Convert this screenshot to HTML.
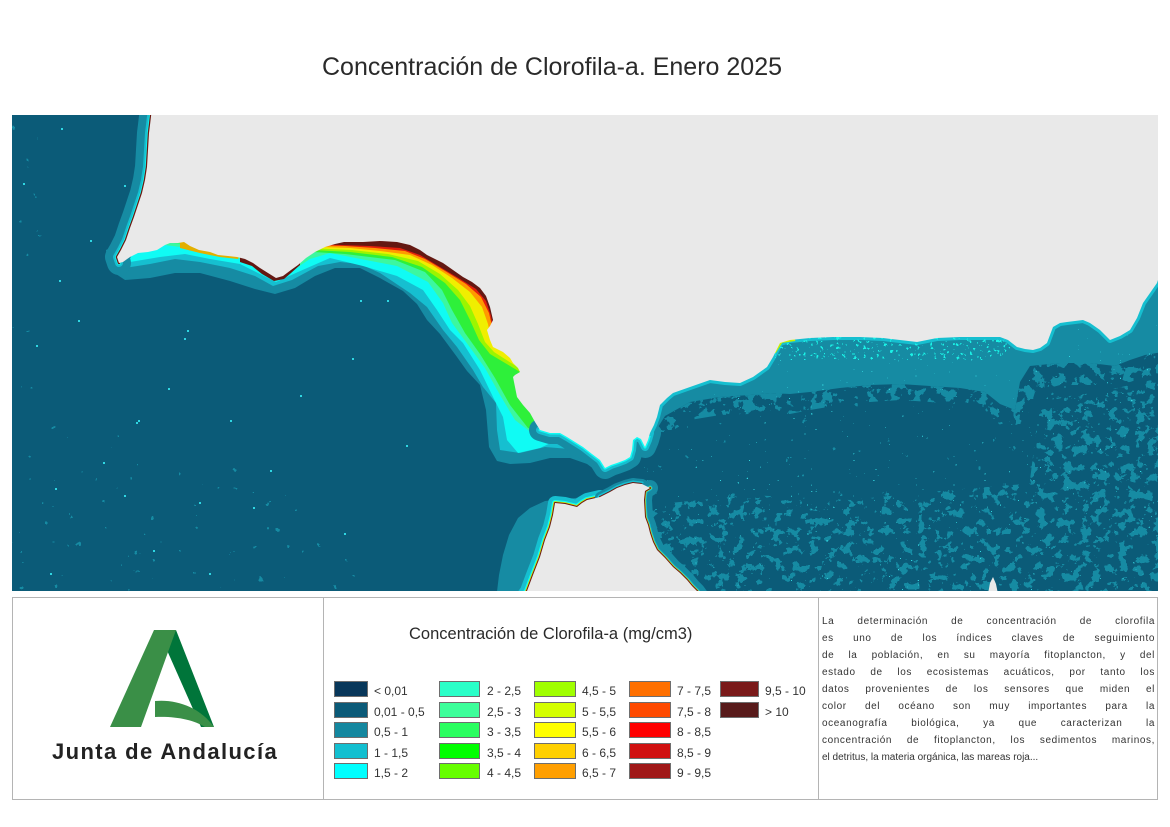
<!DOCTYPE html>
<html><head><meta charset="utf-8">
<style>
html,body{margin:0;padding:0;background:#fff;}
body{width:1170px;height:827px;position:relative;overflow:hidden;font-family:"Liberation Sans",sans-serif;}
.abs{position:absolute;white-space:nowrap;}
.title{left:322px;top:55px;font-size:25px;line-height:25px;color:#2a2a2a;}
.ltitle{left:409px;top:626px;font-size:16.5px;line-height:17px;color:#2a2a2a;}
.sw{position:absolute;height:14px;border:1px solid #6e6e6e;box-sizing:content-box;}
.lb{position:absolute;font-size:12px;line-height:12px;color:#333;white-space:nowrap;}
.tl{position:absolute;left:822px;width:333px;height:17px;font-size:10px;line-height:17px;color:#333;text-align:justify;text-align-last:justify;letter-spacing:0.6px;white-space:nowrap;}
.tl.last{text-align:left;text-align-last:left;letter-spacing:0;}
.junta{left:52px;top:741px;font-size:22px;line-height:22px;font-weight:bold;color:#222;letter-spacing:1.4px;}
</style></head>
<body>
<svg class="abs" style="left:0;top:0" width="1170" height="827" viewBox="0 0 1170 827" xmlns="http://www.w3.org/2000/svg">
<defs>
<clipPath id="mapclip"><rect x="12" y="115" width="1146" height="476"/></clipPath>
<filter id="mixMid" x="0" y="0" width="1" height="1" color-interpolation-filters="sRGB">
 <feTurbulence type="fractalNoise" baseFrequency="0.11" numOctaves="4" seed="11"/>
 <feColorMatrix type="matrix" values="0 0 0 0 0.086  0 0 0 0 0.545  0 0 0 0 0.639  4 0 0 0 -2.78"/>
 <feComponentTransfer><feFuncA type="discrete" tableValues="0 1"/></feComponentTransfer>
 <feComposite in2="SourceGraphic" operator="in"/>
</filter>
<filter id="mixSouth" x="0" y="0" width="1" height="1" color-interpolation-filters="sRGB">
 <feTurbulence type="fractalNoise" baseFrequency="0.11" numOctaves="4" seed="11"/>
 <feColorMatrix type="matrix" values="0 0 0 0 0.086  0 0 0 0 0.545  0 0 0 0 0.639  4 0 0 0 -1.92"/>
 <feComponentTransfer><feFuncA type="discrete" tableValues="0 1"/></feComponentTransfer>
 <feComposite in2="SourceGraphic" operator="in"/>
</filter>
<filter id="mixRight" x="0" y="0" width="1" height="1" color-interpolation-filters="sRGB">
 <feTurbulence type="fractalNoise" baseFrequency="0.11" numOctaves="4" seed="11"/>
 <feColorMatrix type="matrix" values="0 0 0 0 0.086  0 0 0 0 0.545  0 0 0 0 0.639  4 0 0 0 -1.8"/>
 <feComponentTransfer><feFuncA type="discrete" tableValues="0 1"/></feComponentTransfer>
 <feComposite in2="SourceGraphic" operator="in"/>
</filter>
<filter id="mixDense" x="0" y="0" width="1" height="1" color-interpolation-filters="sRGB">
 <feTurbulence type="fractalNoise" baseFrequency="0.09" numOctaves="4" seed="5"/>
 <feColorMatrix type="matrix" values="0 0 0 0 0.086  0 0 0 0 0.545  0 0 0 0 0.639  4 0 0 0 -1.7"/>
 <feComponentTransfer><feFuncA type="discrete" tableValues="0 1"/></feComponentTransfer>
 <feComposite in2="SourceGraphic" operator="in"/>
</filter>
<filter id="mixAtl" x="0" y="0" width="1" height="1" color-interpolation-filters="sRGB">
 <feTurbulence type="fractalNoise" baseFrequency="0.12" numOctaves="3" seed="4"/>
 <feColorMatrix type="matrix" values="0 0 0 0 0.086  0 0 0 0 0.545  0 0 0 0 0.639  4 0 0 0 -2.7"/>
 <feComponentTransfer><feFuncA type="discrete" tableValues="0 1"/></feComponentTransfer>
 <feComposite in2="SourceGraphic" operator="in"/>
</filter>
<filter id="spk" x="0" y="0" width="1" height="1" color-interpolation-filters="sRGB">
 <feTurbulence type="fractalNoise" baseFrequency="0.45" numOctaves="1" seed="21"/>
 <feColorMatrix type="matrix" values="0 0 0 0 0.2  0 0 0 0 0.83  0 0 0 0 0.87  8 0 0 0 -5.6"/>
 <feComponentTransfer><feFuncA type="discrete" tableValues="0 1"/></feComponentTransfer>
 <feComposite in2="SourceGraphic" operator="in"/>
</filter>
<filter id="spk2" x="0" y="0" width="1" height="1" color-interpolation-filters="sRGB">
 <feTurbulence type="fractalNoise" baseFrequency="0.3" numOctaves="2" seed="8"/>
 <feColorMatrix type="matrix" values="0 0 0 0 0.1  0 0 0 0 0.95  0 0 0 0 0.9  8 0 0 0 -4.9"/>
 <feComponentTransfer><feFuncA type="discrete" tableValues="0 1"/></feComponentTransfer>
 <feComposite in2="SourceGraphic" operator="in"/>
</filter>
<path id="s1" d="M152,108 L150,125 149,133 148,150 147,167 145,180 142,193 138,205 134,217 130,228 126,240 121,250 117,257 119,263"/>
<path id="s4" d="M540,430 L550,433 560,433 567,437 575,442 583,447 592,454 600,460 605,468 611,465 617,463 625,460 630,457 632,450 633,440 637,437 641,439 645,447 648,440 650,433"/>
<path id="s5" d="M650,433 L654,425 657,417 660,405 667,398 673,393 690,387 710,380 725,382 740,383 753,377 760,372 767,367 773,357 780,343 790,340 810,338 833,337 860,337 883,338 900,340 917,342 937,338 960,337 1000,337 1008,340 1017,347 1025,349 1033,350 1040,348 1047,343 1053,327 1060,323 1067,322 1083,320 1090,323 1100,330 1110,340 1120,336 1130,330 1137,318 1143,303 1150,293 1157,283 1162,268"/>
<path id="a1" d="M522,598 L527,591 533,575 540,557 545,540 550,527 553,515 555,503 565,504 577,507 582,503 587,500 600,497"/>
<path id="a2" d="M600,497 L610,492 617,488 625,485 633,483 642,484 650,488"/>
<path id="a3" d="M650,488 L645,491 644,500 645,517 648,525 650,533 653,542 657,550 665,558 673,567 680,573 687,580 692,586 697,591 702,598"/>
</defs>

<g clip-path="url(#mapclip)">
 <rect x="12" y="115" width="1146" height="476" fill="#0b5b78"/>
 <!-- Atlantic sparse patches -->
 <polygon points="12,420 150,440 260,470 330,530 370,600 12,600" fill="#000" filter="url(#mixAtl)"/>
 <polygon points="12,115 40,115 45,300 30,420 12,430" fill="#000" filter="url(#mixAtl)"/>
 <!-- Alboran mixtures -->
 <polygon points="630,330 1160,250 1160,600 630,600" fill="#000" filter="url(#mixMid)"/>
 <polygon points="650,505 750,495 850,500 950,490 1050,482 1160,470 1160,600 650,600" fill="#000" filter="url(#mixSouth)"/>
 <polygon points="1040,400 1100,392 1160,378 1160,600 1070,600 1030,480" fill="#000" filter="url(#mixRight)"/>
 <!-- transition strip below north band -->
 <polygon fill="#000" filter="url(#mixDense)" points="655,432 665,416 690,402 720,397 750,395 770,393 790,394 810,392 840,388 870,385 900,384 930,386 960,388 985,392 1000,404 1015,410 1020,382 1030,366 1060,363 1090,363 1115,366 1130,360 1145,355 1162,352 1162,372 1130,382 1100,385 1060,385 1035,392 1025,425 1000,425 985,410 960,405 930,402 900,400 870,402 840,405 810,410 790,414 770,414 750,414 720,415 690,420 670,432"/>
 <!-- Alboran north band -->
 <polygon fill="#168ba3" points="650,433 654,425 657,417 660,405 667,398 673,393 690,387 710,380 725,382 740,383 753,377 760,372 767,367 773,357 780,343 790,340 810,338 833,337 860,337 883,338 900,340 917,342 937,338 960,337 1000,337 1008,340 1017,347 1025,349 1033,350 1040,348 1047,343 1053,327 1060,323 1067,322 1083,320 1090,323 1100,330 1110,340 1120,336 1130,330 1137,318 1143,303 1150,293 1157,283 1162,268 1162,352 1145,355 1130,360 1115,366 1090,363 1060,363 1030,366 1020,382 1015,410 1000,404 985,392 960,388 930,386 900,384 870,385 840,388 810,392 790,394 770,393 750,395 720,397 690,402 665,416 655,432"/>
 <polygon points="640,330 1160,260 1160,600 640,600" fill="#000" filter="url(#spk)"/>
 <!-- Africa Atlantic band -->
 <polygon fill="#168ba3" points="496,600 499,575 503,555 509,535 518,518 530,508 545,501 565,499 585,497 600,495 600,540 560,600"/>
 <!-- Gulf of Cadiz bands -->
 <polygon fill="#168ba3" points="106,250 107,262 113,272 125,280 150,278 175,273 200,273 230,281 255,289 275,294 295,288 315,276 335,268 360,268 380,278 403,291 417,304 427,320 440,334 457,357 467,371 480,385 486,410 489,447 497,461 510,464 530,463 550,458 570,458 590,465 605,471 600,420 450,150 160,150 140,205 127,240"/>
 <polygon fill="#16bfd0" points="112,258 116,266 125,268 150,264 175,259 200,262 230,268 255,276 273,286 292,280 318,266 340,262 360,264 380,273 410,293 427,307 443,330 457,347 473,370 483,387 496,403 497,430 500,450 520,453 545,447 570,449 590,460 605,470 600,420 450,150 160,150 140,205 127,240"/>
 <polygon fill="#10fbf4" points="119,262 130,262 160,257 185,254 210,259 240,264 262,275 276,282 298,272 330,258 363,266 397,276 423,290 437,310 450,330 463,343 480,370 493,397 503,417 507,440 518,453 540,448 555,441 580,448 600,463 605,469 600,420 450,150 160,150 140,205 127,240"/>
 <polygon fill="#3cf7a0" points="180,247 200,253 220,257 240,259 258,267 272,278 290,272 310,259 330,253 397,266 428,282 443,303 452,323 466,342 485,368 500,395 515,420 537,437 550,436 600,420 450,150 160,150 140,205 127,240"/>
 <polygon fill="#2ef03a" points="345,254 395,260 425,272 442,290 452,310 465,333 480,354 495,378 510,405 528,428 545,434 600,420 450,150 160,150 140,205 127,240"/>
 <polygon fill="#9cf500" points="350,252 392,257 422,267 445,283 460,300 470,320 479,340 490,354 600,420 450,150 160,150 140,205 127,240"/>
 <polygon fill="#f0ee00" points="352,250 388,254 418,261 440,274 458,290 470,306 478,324 485,342 494,352 600,420 450,150 160,150 140,205 127,240"/>
 <polygon fill="#ff9a00" points="350,248 380,251 410,255 432,265 452,278 470,292 482,307 488,324 490,334 600,420 450,150 160,150 140,205 127,240"/>
 <polygon fill="#e3200c" points="345,246 375,248 405,251 425,259 445,271 466,284 481,297 489,313 492,326 600,420 450,150 160,150 140,205 127,240"/>
 <polygon fill="#641812" points="340,245 370,246 400,248 420,255 440,267 460,279 476,289 486,301 491,316 492,322 600,420 450,150 160,150 140,205 127,240"/>
 <polygon fill="#641812" points="240,262 252,266 262,274 274,281 284,279 291,273 300,265 300,240 240,240"/>
 <polygon fill="#e3b000" points="180,248 200,253 220,257 238,259 240,250 180,240"/>
 <!-- coastal strokes -->
 <g fill="none" stroke-linejoin="round" stroke-linecap="round">
  <use href="#s1" stroke="#168ba3" stroke-width="24"/>
  <use href="#s1" stroke="#16bfd0" stroke-width="8"/>
  <use href="#s1" stroke="#10fbf4" stroke-width="4"/>
  <use href="#s1" stroke="#6a1a12" stroke-width="2.5"/>
  <use href="#s4" stroke="#168ba3" stroke-width="22"/>
  <use href="#s4" stroke="#16bfd0" stroke-width="8"/>
  <use href="#s4" stroke="#10fbf4" stroke-width="3"/>
  <use href="#s5" stroke="#16bfd0" stroke-width="6"/>
  <use href="#a1" stroke="#16bfd0" stroke-width="14"/>
  <use href="#a1" stroke="#10fbf4" stroke-width="6"/>
  <use href="#a1" stroke="#d8e000" stroke-width="3.5"/>
  <use href="#a1" stroke="#6a1a12" stroke-width="2"/>
  <use href="#a2" stroke="#168ba3" stroke-width="10"/>
  <use href="#a2" stroke="#16bfd0" stroke-width="5"/>
  <use href="#a2" stroke="#6a1a12" stroke-width="2"/>
  <use href="#a3" stroke="#168ba3" stroke-width="16"/>
  <use href="#a3" stroke="#16bfd0" stroke-width="5"/>
  <use href="#a3" stroke="#e0e000" stroke-width="3"/>
  <use href="#a3" stroke="#6a1a12" stroke-width="2"/>
 </g>
 <polygon points="775,336 1010,332 1010,360 775,360" fill="#000" filter="url(#spk2)"/>
 <path d="M774,352 L781,341 795,339" fill="none" stroke="#c8f000" stroke-width="4"/>
 <!-- Atlantic cyan speckles -->
 <g fill="#2fd6e2">
  <rect x="78" y="320" width="2" height="2"/><rect x="36" y="345" width="2" height="2"/>
  <rect x="184" y="338" width="2" height="2"/><rect x="187" y="330" width="2" height="2"/>
  <rect x="103" y="462" width="2" height="2"/><rect x="55" y="488" width="2" height="2"/>
  <rect x="124" y="495" width="2" height="2"/><rect x="136" y="422" width="2" height="2"/>
  <rect x="168" y="388" width="2" height="2"/><rect x="253" y="507" width="2" height="2"/>
  <rect x="199" y="502" width="2" height="2"/><rect x="153" y="550" width="2" height="2"/>
  <rect x="209" y="573" width="2" height="2"/><rect x="50" y="573" width="2" height="2"/>
  <rect x="59" y="280" width="2" height="2"/><rect x="360" y="300" width="2" height="2"/>
  <rect x="406" y="445" width="2" height="2"/><rect x="352" y="358" width="2" height="2"/>
  <rect x="300" y="395" width="2" height="2"/><rect x="138" y="420" width="2" height="2"/>
  <rect x="23" y="183" width="2" height="2"/><rect x="61" y="128" width="2" height="2"/>
  <rect x="124" y="185" width="2" height="2"/><rect x="344" y="533" width="2" height="2"/>
  <rect x="387" y="300" width="2" height="2"/><rect x="230" y="420" width="2" height="2"/>
  <rect x="270" y="470" width="2" height="2"/><rect x="90" y="240" width="2" height="2"/>
 </g>
 <!-- land -->
 <g fill="#e9e9e9">
  <polygon points="152,108 150,125 149,133 148,150 147,167 145,180 142,193 138,205 134,217 130,228 126,240 121,250 117,257 119,263 123,262 130,257 138,253 148,252 157,250 165,245 170,243 178,243 184,242 190,246 199,250 210,252 218,255 228,256 237,257 245,259 253,263 260,268 268,273 276,278 283,276 291,270 298,265 306,258 315,252 325,247 335,244 344,242 363,242 380,241 397,242 410,245 420,250 427,255 435,259 443,263 453,270 463,277 472,282 480,288 486,296 490,307 493,320 490,326 487,330 490,340 493,347 503,352 510,358 513,363 518,368 520,372 515,375 513,377 515,387 517,397 523,405 530,413 535,422 540,430 550,433 560,433 567,437 575,442 583,447 592,454 600,460 605,468 611,465 617,463 625,460 630,457 632,450 633,440 637,437 641,439 645,447 648,440 650,433 654,425 657,417 660,405 667,398 673,393 690,387 710,380 725,382 740,383 753,377 760,372 767,367 773,357 780,343 790,340 810,338 833,337 860,337 883,338 900,340 917,342 937,338 960,337 1000,337 1008,340 1017,347 1025,349 1033,350 1040,348 1047,343 1053,327 1060,323 1067,322 1083,320 1090,323 1100,330 1110,340 1120,336 1130,330 1137,318 1143,303 1150,293 1157,283 1162,268 1162,108"/>
  <polygon points="522,598 527,591 533,575 540,557 545,540 550,527 553,515 555,503 565,504 577,507 582,503 587,500 600,497 610,492 617,488 625,485 633,483 642,484 650,488 645,491 644,500 645,517 648,525 650,533 653,542 657,550 665,558 673,567 680,573 687,580 692,586 697,591 702,598"/>
  <polygon points="988,594 990,583 993,577 996,584 998,594"/>
 </g>
</g>

<!-- bottom panel frame -->
<rect x="12.5" y="597.5" width="1145" height="202" fill="none" stroke="#b4b4b4" stroke-width="1"/>
<line x1="323.5" y1="597" x2="323.5" y2="800" stroke="#b4b4b4" stroke-width="1"/>
<line x1="818.5" y1="597" x2="818.5" y2="800" stroke="#b4b4b4" stroke-width="1"/>

<!-- logo -->
<polygon points="176,630 214,727 201,727 166,648" fill="#00753a"/>
<polygon points="154,630 176,630 141,727 110,727" fill="#3a8f47"/>
<path d="M155,701 C176,699 200,707 214,727 L205,727 C194,720 176,716 155,717 Z" fill="#3a8f47"/>
</svg>

<div class="abs title">Concentración de Clorofila-a. Enero 2025</div>
<div class="abs ltitle">Concentración de Clorofila-a (mg/cm3)</div>

<!-- legend swatches -->
<div class="sw" style="left:334px;top:681px;width:32px;background:#08375a"></div>
<div class="sw" style="left:334px;top:702px;width:32px;background:#0b5a78"></div>
<div class="sw" style="left:334px;top:722px;width:32px;background:#14879f"></div>
<div class="sw" style="left:334px;top:743px;width:32px;background:#12bfd0"></div>
<div class="sw" style="left:334px;top:763px;width:32px;background:#00ffff"></div>

<div class="sw" style="left:439px;top:681px;width:39px;background:#2affc8"></div>
<div class="sw" style="left:439px;top:702px;width:39px;background:#3cff9a"></div>
<div class="sw" style="left:439px;top:722px;width:39px;background:#2aff60"></div>
<div class="sw" style="left:439px;top:743px;width:39px;background:#00ff00"></div>
<div class="sw" style="left:439px;top:763px;width:39px;background:#66ff00"></div>

<div class="sw" style="left:534px;top:681px;width:40px;background:#a0ff00"></div>
<div class="sw" style="left:534px;top:702px;width:40px;background:#d4ff00"></div>
<div class="sw" style="left:534px;top:722px;width:40px;background:#ffff00"></div>
<div class="sw" style="left:534px;top:743px;width:40px;background:#ffd000"></div>
<div class="sw" style="left:534px;top:763px;width:40px;background:#ff9f00"></div>

<div class="sw" style="left:629px;top:681px;width:40px;background:#ff7000"></div>
<div class="sw" style="left:629px;top:702px;width:40px;background:#ff4a00"></div>
<div class="sw" style="left:629px;top:722px;width:40px;background:#ff0000"></div>
<div class="sw" style="left:629px;top:743px;width:40px;background:#d01010"></div>
<div class="sw" style="left:629px;top:763px;width:40px;background:#a01818"></div>

<div class="sw" style="left:720px;top:681px;width:37px;background:#7a1a1a"></div>
<div class="sw" style="left:720px;top:702px;width:37px;background:#581a1a"></div>

<!-- legend labels -->
<div class="lb" style="left:374px;top:685px">&lt; 0,01</div>
<div class="lb" style="left:374px;top:706px">0,01 - 0,5</div>
<div class="lb" style="left:374px;top:726px">0,5 - 1</div>
<div class="lb" style="left:374px;top:747px">1 - 1,5</div>
<div class="lb" style="left:374px;top:767px">1,5 - 2</div>

<div class="lb" style="left:487px;top:685px">2 - 2,5</div>
<div class="lb" style="left:487px;top:706px">2,5 - 3</div>
<div class="lb" style="left:487px;top:726px">3 - 3,5</div>
<div class="lb" style="left:487px;top:747px">3,5 - 4</div>
<div class="lb" style="left:487px;top:767px">4 - 4,5</div>

<div class="lb" style="left:582px;top:685px">4,5 - 5</div>
<div class="lb" style="left:582px;top:706px">5 - 5,5</div>
<div class="lb" style="left:582px;top:726px">5,5 - 6</div>
<div class="lb" style="left:582px;top:747px">6 - 6,5</div>
<div class="lb" style="left:582px;top:767px">6,5 - 7</div>

<div class="lb" style="left:677px;top:685px">7 - 7,5</div>
<div class="lb" style="left:677px;top:706px">7,5 - 8</div>
<div class="lb" style="left:677px;top:726px">8 - 8,5</div>
<div class="lb" style="left:677px;top:747px">8,5 - 9</div>
<div class="lb" style="left:677px;top:767px">9 - 9,5</div>

<div class="lb" style="left:765px;top:685px">9,5 - 10</div>
<div class="lb" style="left:765px;top:706px">&gt; 10</div>

<!-- description text -->
<div class="tl" style="top:613px">La determinación de concentración de clorofila</div>
<div class="tl" style="top:630px">es uno de los índices claves de seguimiento</div>
<div class="tl" style="top:647px">de la población, en su mayoría fitoplancton, y del</div>
<div class="tl" style="top:664px">estado de los ecosistemas acuáticos, por tanto los</div>
<div class="tl" style="top:681px">datos provenientes de los sensores que miden el</div>
<div class="tl" style="top:698px">color del océano son muy importantes para la</div>
<div class="tl" style="top:715px">oceanografía biológica, ya que caracterizan la</div>
<div class="tl" style="top:732px">concentración de fitoplancton, los sedimentos marinos,</div>
<div class="tl last" style="top:749px">el detritus, la materia orgánica, las mareas roja...</div>

<div class="abs junta">Junta de Andalucía</div>
</body></html>
